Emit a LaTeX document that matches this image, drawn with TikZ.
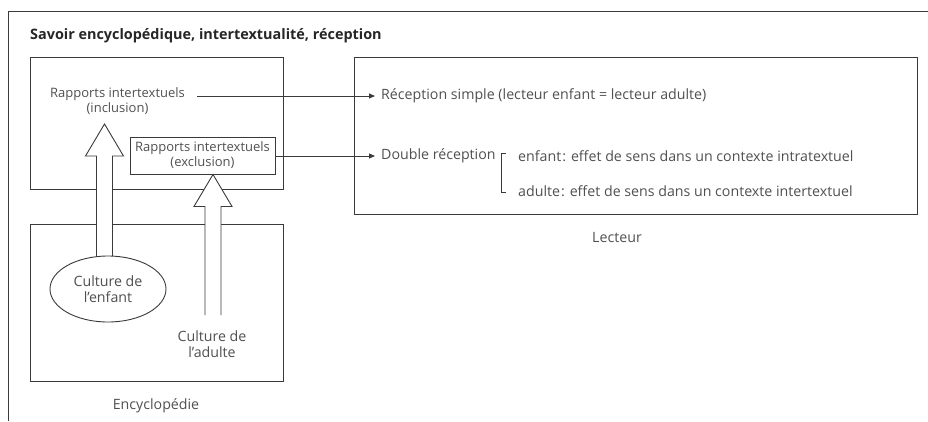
\documentclass[tikz,border=0pt]{standalone}
\usepackage{fontspec}
\setmainfont{Open Sans}
\usetikzlibrary{arrows.meta,positioning,shapes.geometric,calc}

\definecolor{encre}{HTML}{3A3A3A}
\definecolor{gristexte}{HTML}{505050}

% grosse fleche creuse : #1 pointe, #2 pied
\newcommand{\grossefleche}[2]{%
  \draw[creuse] ($(#1 |- #2)+(-8,0)$) -- ($(#1)+(-8,32)$) -- ($(#1)+(-19,32)$)
    -- (#1) -- ($(#1)+(19,32)$) -- ($(#1)+(8,32)$) -- ($(#1 |- #2)+(8,0)$);
}

\tikzset{
  cadre/.style={draw=encre, line width=0.9pt, inner sep=0pt},
  texte/.style={text=gristexte, font=\fontsize{14.2}{15.5}\selectfont, inner sep=0pt},
  petit/.style={font=\fontsize{13}{15}\selectfont},
  lien/.style={draw=encre, line width=0.8pt, shorten >=6pt, -{Triangle[length=6pt,width=5pt]}},
  creuse/.style={draw=encre, line width=0.9pt, fill=white},
}

\begin{document}
\begin{tikzpicture}[x=1pt,y=-1pt]
  \useasboundingbox (0,0) rectangle (928,421);

  % cadre general
  \coordinate (hautdroit) at (928,11);
  \coordinate (coin) at (8,11);
  \coordinate (basgauche) at (8,421);
  \draw[draw=encre, line width=0.9pt] (hautdroit) -- (coin) -- (basgauche);
  \node[texte, font=\fontsize{14.4}{16}\selectfont\bfseries, text=black!85, anchor=base west] (titre) at (30,39)
    {Savoir encyclopédique, intertextualité, réception};

  % boites
  \node[cadre, minimum width=253, minimum height=132] (savoir) at (156.5,123) {};
  \node[cadre, minimum width=253, minimum height=157] (encyclo) at (156.5,302.5) {};
  \node[cadre, minimum width=563, minimum height=157] (lecteur) at (635.5,135.5) {};
  \node[texte, anchor=base] (lblencyclo) at (156,409) {Encyclopédie};
  \node[texte, anchor=base] (lbllecteur) at (617,242) {Lecteur};

  % rapports intertextuels
  \node[texte, petit, align=center] (incl) at (117.5,101) {Rapports intertextuels\\(inclusion)};
  \node[cadre, texte, petit, draw=encre, line width=0.9pt, align=center, minimum width=145, minimum height=37]
    (excl) at (202.5,155.5) {Rapports intertextuels\\(exclusion)};

  % grosses fleches
  \coordinate (pointeA) at (104.5,124);
  \coordinate (piedA) at (104.5,290);
  \coordinate (piedB) at (213,315);
  \coordinate (pointeB) at (excl.south -| piedB);
  \grossefleche{pointeA}{piedA}
  \grossefleche{pointeB}{piedB}

  % cultures
  \node[ellipse, draw=encre, line width=0.9pt, fill=white, minimum width=116, minimum height=66,
    texte, align=center] (enfant) at (108,289) {Culture de\\l’enfant};
  \node[texte, align=center] (adulte) at (212,344) {Culture de\\l’adulte};

  % receptions
  \node[texte, anchor=west] (simple) at (381,96) {Réception simple (lecteur enfant = lecteur adulte)};
  \node[texte, anchor=west] (double) at (381,156) {Double réception};
  \node[texte, anchor=west] (enf) at (518,156) {enfant\kern1pt: effet de sens dans un contexte intratextuel};
  \node[texte, anchor=west] (adu) at (518,191) {adulte\kern1pt: effet de sens dans un contexte intertextuel};
  \draw[draw=encre, line width=0.9pt] ($(enf.west)+(-12,-3)$) -- ($(enf.west)+(-17,-3)$)
    -- ($(adu.west)+(-17,1)$) -- ($(adu.west)+(-12,1)$);

  % liens
  \coordinate (inclsortie) at (197,96);
  \draw[lien] (inclsortie) -- (simple.west);
  \draw[lien] (excl.east |- double) -- (double.west);
\end{tikzpicture}
\end{document}
